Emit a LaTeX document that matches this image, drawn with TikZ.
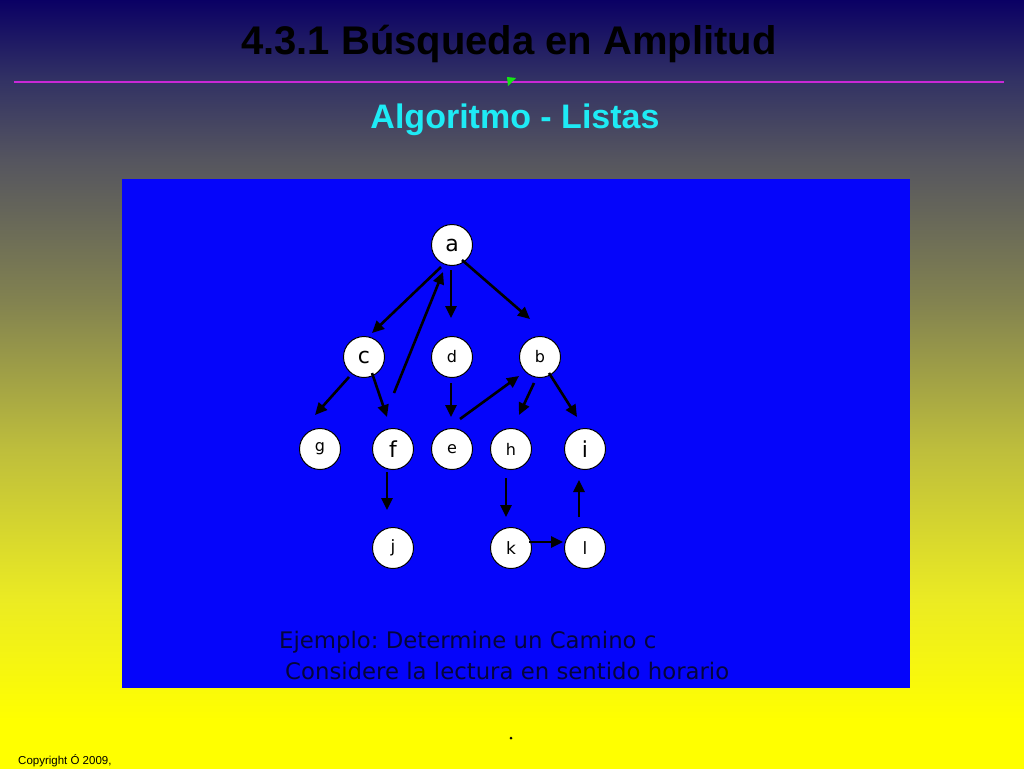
\documentclass[tikz,border=0pt]{standalone}
\usepackage{fontspec}
\setmainfont{Liberation Sans}
\newfontfamily\dejavu{DejaVu Sans}
\usetikzlibrary{arrows.meta,calc}
\frenchspacing
\definecolor{cA}{RGB}{10,0,100}
\definecolor{cB}{RGB}{50,50,100}
\definecolor{cC}{RGB}{85,85,95}
\definecolor{cD}{RGB}{130,130,80}
\definecolor{cE}{RGB}{190,190,60}
\definecolor{cF}{RGB}{235,235,35}
\definecolor{cG}{RGB}{255,255,0}
\definecolor{panelblue}{RGB}{5,5,250}
\definecolor{subcyan}{RGB}{30,235,245}
\definecolor{rulemag}{RGB}{200,40,215}
\definecolor{markgreen}{RGB}{20,230,20}
\definecolor{textnavy}{RGB}{5,5,60}
\pgfdeclareverticalshading{bgshade}{100bp}{color(0bp)=(cG); color(28.1bp)=(cG); color(35.95bp)=(cF); color(45.7bp)=(cE); color(55.45bp)=(cD); color(64.6bp)=(cC); color(69.8bp)=(cB); color(75bp)=(cA); color(100bp)=(cA)}
\begin{document}
\begin{tikzpicture}[x=1pt,y=-1pt,
  vnode/.style={circle,draw=black,line width=1pt,fill=white,minimum size=41pt,inner sep=0pt,font=\dejavu\fontsize{16}{16}\selectfont},
  bignode/.style={vnode,font=\dejavu\fontsize{22}{22}\selectfont},
  midnode/.style={vnode,font=\dejavu\fontsize{17}{17}\selectfont},
  arr/.style={line width=2.6pt,-{Triangle[length=12pt,width=11pt]}},
  ]
\useasboundingbox (0,0) rectangle (1024,768);
\shade[shading=bgshade] (0,0) rectangle (1024,768);
% header
\node[anchor=base,font=\bfseries\fontsize{40}{40}\selectfont,text=black,inner sep=0pt] (title) at (509,55) {4.3.1 Búsqueda en Amplitud};
\coordinate (ruleL) at (14,82);
\coordinate (ruleR) at (1004,82);
\draw[rulemag,line width=1.5pt] (ruleL) -- (ruleR);
\fill[markgreen] (507,77) -- (516,78) -- (508,86) -- cycle;
\node[anchor=base,font=\bfseries\fontsize{34}{34}\selectfont,text=subcyan,inner sep=0pt] (sub) at (515,128) {Algoritmo - Listas};
% panel
\fill[panelblue] (122,179) rectangle (910,688);
% nodes
\node[bignode] (a) at (452,245) {a};
\node[bignode] (c) at (364,357) {c};
\node[vnode] (d) at (452,357) {d};
\node[vnode] (b) at (540,357) {b};
\node[vnode] (g) at (320,449) {g};
\node[bignode] (f) at (393,449) {f};
\node[vnode] (e) at (452,449) {e};
\node[vnode] (h) at (511,449) {h};
\node[bignode] (i) at (585,449) {i};
\node[midnode] (j) at (393,548) {j};
\node[midnode] (k) at (511,548) {k};
\node[midnode] (l) at (585,548) {l};
% edges
\draw[arr] ($(a)+(-11,22)$) -- ($(c)+(8,-24)$);
\draw[arr] ($(a)+(-1,25)$) -- ($(d)+(-1,-39)$);
\draw[arr] ($(a)+(10,15)$) -- ($(b)+(-10,-38)$);
\draw[arr] ($(f)+(1,-56)$) -- ($(a)+(-9,27)$);
\draw[arr] ($(c)+(-15,20)$) -- ($(g)+(-5,-34)$);
\draw[arr] ($(c)+(8,16)$) -- ($(f)+(-6,-32)$);
\draw[arr] ($(d)+(-1,26)$) -- ($(e)+(-1,-32)$);
\draw[arr] ($(e)+(8,-30)$) -- ($(b)+(-21,19)$);
\draw[arr] ($(b)+(-6,26)$) -- ($(h)+(8,-34)$);
\draw[arr] ($(b)+(9,16)$) -- ($(i)+(-8,-32)$);
\draw[arr] ($(f)+(-6,23)$) -- ($(j)+(-6,-38)$);
\draw[arr] ($(h)+(-5,29)$) -- ($(k)+(-5,-31)$);
\draw[arr] ($(l)+(-6,-31)$) -- ($(i)+(-6,31)$);
\draw[arr] ($(k)+(18,-6)$) -- ($(l)+(-22,-6)$);
% caption
\node[anchor=base west,inner sep=0pt,text=textnavy,font=\dejavu\fontsize{22.8}{22.8}\selectfont] (cap1) at (279,648) {Ejemplo: Determine un Camino c};
\node[anchor=base west,inner sep=0pt,text=textnavy,font=\dejavu\fontsize{22.8}{22.8}\selectfont] (cap2) at (285,679) {Considere la lectura en sentido horario};
% footer
\fill[black] (511,738) circle (1.5pt);
\node[anchor=base west,inner sep=0pt,font=\fontsize{11.5}{11.5}\selectfont,text=black] (copy) at (18,764) {Copyright Ó 2009,};
\end{tikzpicture}
\end{document}
